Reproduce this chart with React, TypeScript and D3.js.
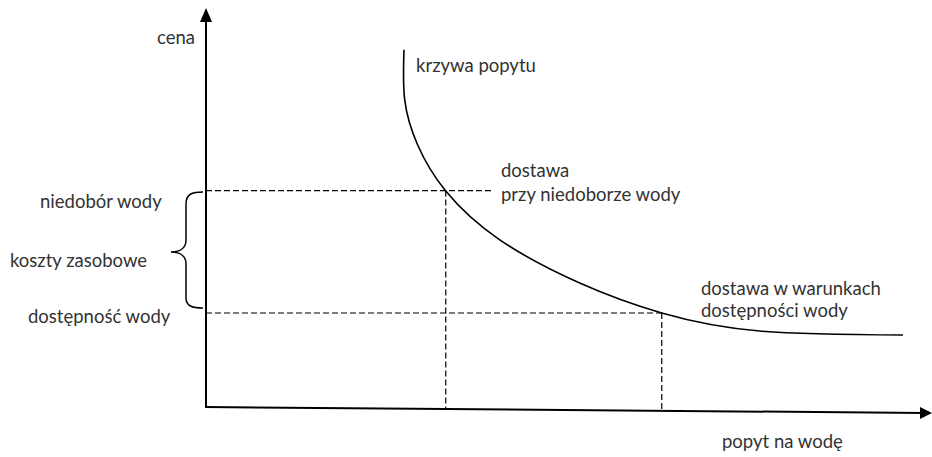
import React from "react";
import * as d3 from "d3";

// demand curve: quantity (x) vs price (y), in chart units 0..100
const demandQ = [27.5, 27.6, 29.4, 33.3, 40.8, 51.9, 63.3, 76.9, 96.8];
const demandP = [89.3, 76.8, 65.5, 54.0, 41.8, 31.0, 23.5, 19.0, 18.0];

// price levels and corresponding quantities
const levelNames = ["niedobór wody", "dostępność wody"];
const levelP = [54.1, 23.5];
const levelQ = [33.3, 63.3];
const levelLineEndQ = [39.9, 63.3];

// text labels: [text, x, baseline]
const labels: [string, number, number][] = [
  ["cena", 157, 44],
  ["krzywa popytu", 416, 72],
  ["dostawa", 501, 177],
  ["przy niedoborze wody", 501, 201],
  [levelNames[0], 40, 208],
  ["koszty zasobowe", 10, 267],
  [levelNames[1], 28, 323],
  ["dostawa w warunkach", 701, 295],
  ["dostępności wody", 701, 317],
  ["popyt na wodę", 722, 448],
];

const W = 932;
const H = 457;
const FONT = "Lato, 'Open Sans', sans-serif";
const TXT = "#333";
const FS = 18.5;

export default function App() {
  const x = d3.scaleLinear().domain([0, 100]).range([206, 926]);
  const y = d3.scaleLinear().domain([0, 100]).range([407, 7]);
  // x axis is slightly tilted in the reference
  const tilt = (px: number) => ((px - 206) / 722) * 6;

  const pts: [number, number][] = demandQ.map((q, i) => [x(q), y(demandP[i])]);
  const line = d3.line().curve(d3.curveNatural)(pts) || "";

  const bx = 186;
  const brace = `M203,192 C192,192 ${bx},194 ${bx},204 L${bx},240 C${bx},248 180,252 171,252 C180,252 ${bx},256 ${bx},264 L${bx},298 C${bx},306 192,308 203,308`;

  return (
    <svg width={W} height={H} style={{ position: "absolute", left: 0, top: 0, background: "#fff" }}>
      {/* dashed guides */}
      {levelP.map((p, i) => (
        <g key={i} stroke="#000" strokeWidth={1.2} strokeDasharray="6,3" fill="none">
          <line x1={x(0)} y1={y(p)} x2={x(levelLineEndQ[i])} y2={y(p)} />
          <line x1={x(levelQ[i])} y1={y(p)} x2={x(levelQ[i])} y2={y(0) + tilt(x(levelQ[i]))} />
        </g>
      ))}
      {/* axes */}
      <line x1={x(0)} y1={y(0) + 1} x2={x(0)} y2={20} stroke="#000" strokeWidth={2} />
      <path d={`M${x(0)},8 L${x(0) - 6},22 L${x(0) + 6},22 Z`} fill="#000" />
      <line x1={x(0) - 1} y1={y(0)} x2={924} y2={y(0) + tilt(924)} stroke="#000" strokeWidth={2} />
      <path d={`M932,${y(0) + tilt(932)} L920,${y(0) + tilt(920) - 6} L920,${y(0) + tilt(920) + 6} Z`} fill="#000" />
      {/* demand curve */}
      <path d={line} fill="none" stroke="#000" strokeWidth={1.6} />
      {/* brace */}
      <path d={brace} fill="none" stroke="#000" strokeWidth={1.5} />
      {/* labels */}
      {labels.map(([s, px, py], i) => (
        <text key={i} x={px} y={py} fontFamily={FONT} fontSize={FS} fill={TXT}>{s}</text>
      ))}
    </svg>
  );
}
